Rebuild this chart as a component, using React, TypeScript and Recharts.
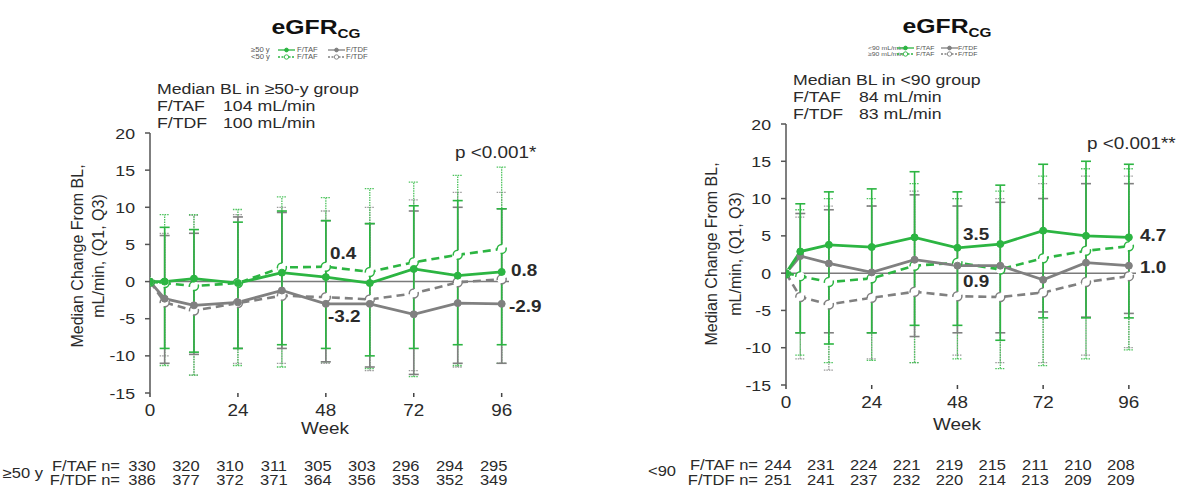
import React from 'react';
import { LineChart, Line, XAxis, YAxis, ErrorBar, ReferenceLine } from 'recharts';

const weeks = [0, 4, 12, 24, 36, 48, 60, 72, 84, 96];
const nWeeks = [0, 12, 24, 36, 48, 60, 72, 84, 96];
const xTicks = [0, 24, 48, 72, 96];
const yTicks = [-15, -10, -5, 0, 5, 10, 15, 20];

// left panel: >=50 y (solid) vs <50 y (dashed)
const ageTafOld = [0, 0, 0.4, -0.2, 1.2, 0.6, -0.2, 1.7, 0.8, 1.3];
const ageTafOldQ1 = [null, -9, -9.5, -9, -8.5, -9, -10, -9, -8.5, -8.5];
const ageTafOldQ3 = [null, 7.3, 7.0, 8.0, 9.5, 8.2, 7.8, 10.2, 10.9, 9.8];
const ageTdfOld = [0, -2.3, -3.2, -2.8, -1.2, -3.0, -3.0, -4.4, -2.9, -3.0];
const ageTdfOldQ1 = [null, -11, -9.8, -9.0, -9.0, -10.8, -11.5, -12.5, -11.0, -11.0];
const ageTdfOldQ3 = [null, 6.2, 6.5, 8.7, 9.3, 8.2, 7.8, 9.5, 10, 9.8];
const ageTafYoung = [0, -0.2, -0.6, -0.2, 1.9, 2.0, 1.3, 2.6, 3.6, 4.4];
const ageTafYoungQ1 = [null, -11.3, -12.6, -11.3, -11.5, -10.8, -11.7, -12.8, -11.3, -11.0];
const ageTafYoungQ3 = [null, 9.0, 9.0, 9.7, 11.4, 11.3, 12.5, 13.4, 14.3, 15.4];
const ageTdfYoung = [0, -2.8, -3.9, -2.9, -1.9, -2.1, -2.4, -1.6, -0.1, 0.3];
const ageTdfYoungQ1 = [null, -10, -12.6, -11, -11, -11, -12, -12, -11.5, -11];
const ageTdfYoungQ3 = [null, 6.5, 8.9, 9.0, 10, 9.5, 10, 11, 12, 12];
const ageNTaf = [330, 320, 310, 311, 305, 303, 296, 294, 295];
const ageNTdf = [386, 377, 372, 371, 364, 356, 353, 352, 349];

// right panel: <90 mL/min (solid) vs >=90 mL/min (dashed)
const crTafLow = [0, 2.9, 3.8, 3.5, 4.8, 3.4, 3.9, 5.7, 5.0, 4.8];
const crTafLowQ1 = [null, -8, -9.5, -8, -7, -7, -9, -6, -6, -6];
const crTafLowQ3 = [null, 9.3, 10.9, 11.3, 13.6, 10.9, 11.8, 14.6, 15.0, 14.6];
const crTdfLow = [0, 2.3, 1.3, 0.1, 1.8, 1.0, 1.0, -0.9, 1.4, 1.0];
const crTdfLowQ1 = [null, -8, -8, -8, -8.5, -8, -8, -5.2, -5.9, -5.4];
const crTdfLowQ3 = [null, 8, 8.5, 9, 10.5, 9, 9.5, 10, 12, 12];
const crTafHigh = [0, -0.4, -1.2, -0.7, 1.0, 1.4, 0.5, 2.0, 3.0, 3.6];
const crTafHighQ1 = [null, -11, -12, -11.7, -12, -11.5, -12.8, -12.4, -11.5, -10.3];
const crTafHighQ3 = [null, 8.5, 10, 10, 12, 10, 11, 13, 14, 14];
const crTdfHigh = [0, -3.2, -4.2, -3.3, -2.5, -3.1, -3.2, -2.6, -1.2, -0.4];
const crTdfHighQ1 = [null, -11.5, -13, -11.5, -12, -11, -12, -12, -11, -10];
const crTdfHighQ3 = [null, 7.5, 9, 9, 11, 10, 10, 12, 13, 13];
const crNTaf = [244, 231, 224, 221, 219, 215, 211, 210, 208];
const crNTdf = [251, 241, 237, 232, 220, 214, 213, 209, 209];

const GREEN = '#2cb542';
const GREEN_BAR = '#4cc35c';
const GRAY = '#808080';
const GRAY_BAR = '#9a9a9a';
const INK = '#2a2a2a';
const FONT = '"Liberation Sans", Arial, sans-serif';
const SX = 1.18; // text in the source is a little wide

type Triple = [number[], (number | null)[], (number | null)[]];

const mkRows = (s: Record<string, Triple>) =>
  weeks.map((week, i) => {
    const row: any = { week };
    for (const k in s) {
      const [v, q1, q3] = s[k];
      row[k] = v[i];
      row[k + 'Err'] = q1[i] == null ? undefined : [v[i] - (q1[i] as number), (q3[i] as number) - v[i]];
    }
    return row;
  });

const ageRows = mkRows({
  solG: [ageTafOld, ageTafOldQ1, ageTafOldQ3],
  solK: [ageTdfOld, ageTdfOldQ1, ageTdfOldQ3],
  dshG: [ageTafYoung, ageTafYoungQ1, ageTafYoungQ3],
  dshK: [ageTdfYoung, ageTdfYoungQ1, ageTdfYoungQ3],
});
const crRows = mkRows({
  solG: [crTafLow, crTafLowQ1, crTafLowQ3],
  solK: [crTdfLow, crTdfLowQ1, crTdfLowQ3],
  dshG: [crTafHigh, crTafHighQ1, crTafHighQ3],
  dshK: [crTdfHigh, crTdfHighQ1, crTdfHighQ3],
});

const SText = ({ x, y, size, weight = 400, anchor = 'start', fill = INK, children }: any) => (
  <g transform={`translate(${x},${y}) scale(${SX},1)`}>
    <text x={0} y={0} fontSize={size} fontWeight={weight} textAnchor={anchor} fill={fill} fontFamily={FONT}>
      {children}
    </text>
  </g>
);

const XTick = (p: any) => (
  <SText x={p.x} y={p.y + 13} size={16} anchor="middle">{p.payload.value}</SText>
);
const YTick = (p: any) => (
  <SText x={p.x} y={p.y + 5.5} size={15} anchor="end">{p.payload.value}</SText>
);

const makeNTick = (taf: number[], tdf: number[], c: any) => (p: any) => {
  const i = nWeeks.indexOf(p.payload.value);
  return (
    <g>
      <SText x={p.x - 8} y={p.y + c.dy1} size={14} anchor="middle">{taf[i]}</SText>
      <SText x={p.x - 8} y={p.y + c.dy2} size={14} anchor="middle">{tdf[i]}</SText>
      {i === 0 && (
        <>
          <SText x={p.x - c.rowDx} y={p.y + c.dy1} size={14} anchor="end">F/TAF n=</SText>
          <SText x={p.x - c.rowDx} y={p.y + c.dy2} size={14} anchor="end">F/TDF n=</SText>
          <SText x={p.x - c.groupDx} y={p.y + c.dyG} size={14} anchor="end">{c.group}</SText>
        </>
      )}
    </g>
  );
};

const Panel = ({ rows, cfg, nTaf, nTdf }: any) => (
  <div style={{ position: 'absolute', left: cfg.left, top: 0 }}>
    <LineChart width={cfg.width} height={495} data={rows} margin={{ top: cfg.top, right: cfg.right, left: 0, bottom: 0 }}>
      <XAxis
        dataKey="week"
        type="number"
        domain={[0, 98]}
        ticks={xTicks}
        interval={0}
        axisLine={false}
        tickLine={{ stroke: '#444', strokeWidth: 1.5 }}
        tickSize={4}
        tickMargin={6}
        height={cfg.h1}
        tick={XTick}
        allowDataOverflow
      />
      <XAxis
        xAxisId="n"
        dataKey="week"
        type="number"
        domain={[0, 98]}
        ticks={nWeeks}
        interval={0}
        axisLine={false}
        tickLine={false}
        tickSize={0}
        tickMargin={0}
        height={cfg.h2}
        tick={makeNTick(nTaf, nTdf, cfg)}
        allowDataOverflow
      />
      <YAxis
        type="number"
        domain={[-15, 20]}
        ticks={yTicks}
        interval={0}
        width={cfg.yw}
        axisLine={{ stroke: '#555', strokeWidth: 1.5 }}
        tickLine={{ stroke: '#555', strokeWidth: 1.5 }}
        tickSize={5}
        tickMargin={10}
        tick={YTick}
        allowDataOverflow
      />
      <ReferenceLine y={0} stroke="#7a7a7a" strokeWidth={1.5} />

      {/* error bars first so they sit under every line */}
      <Line dataKey="dshK" stroke="none" dot={false} activeDot={false} isAnimationActive={false}>
        <ErrorBar dataKey="dshKErr" direction="y" width={5} stroke={GRAY_BAR} strokeWidth={1.3} strokeDasharray="1.5 1" isAnimationActive={false} />
      </Line>
      <Line dataKey="dshG" stroke="none" dot={false} activeDot={false} isAnimationActive={false}>
        <ErrorBar dataKey="dshGErr" direction="y" width={5} stroke={GREEN_BAR} strokeWidth={1.3} strokeDasharray="1.5 1" isAnimationActive={false} />
      </Line>
      <Line dataKey="solK" stroke="none" dot={false} activeDot={false} isAnimationActive={false}>
        <ErrorBar dataKey="solKErr" direction="y" width={5} stroke={GRAY} strokeWidth={1.6} isAnimationActive={false} />
      </Line>
      <Line dataKey="solG" stroke="none" dot={false} activeDot={false} isAnimationActive={false}>
        <ErrorBar dataKey="solGErr" direction="y" width={5} stroke={GREEN} strokeWidth={1.6} isAnimationActive={false} />
      </Line>

      <Line dataKey="dshK" stroke={GRAY} strokeWidth={2.6} strokeDasharray="8 5" dot={{ r: 4.5, fill: '#fff', stroke: GRAY, strokeWidth: 1.5 }} activeDot={false} isAnimationActive={false} />
      <Line dataKey="dshG" stroke={GREEN} strokeWidth={2.6} strokeDasharray="8 5" dot={{ r: 4.5, fill: '#fff', stroke: GREEN, strokeWidth: 1.5 }} activeDot={false} isAnimationActive={false} />
      <Line dataKey="solK" stroke={GRAY} strokeWidth={2.8} dot={{ r: 3.5, fill: GRAY, stroke: GRAY, strokeWidth: 1 }} activeDot={false} isAnimationActive={false} />
      <Line dataKey="solG" stroke={GREEN} strokeWidth={2.8} dot={{ r: 3.5, fill: GREEN, stroke: GREEN, strokeWidth: 1 }} activeDot={false} isAnimationActive={false} />
    </LineChart>
  </div>
);

const LegendKey = ({ x, y, color, open }: any) => (
  <g>
    <line x1={x} y1={y} x2={x + 17} y2={y} stroke={color} strokeWidth={1.3} strokeDasharray={open ? '2 1.5' : undefined} />
    <circle cx={x + 8.5} cy={y} r={open ? 2.2 : 1.9} fill={open ? '#fff' : color} stroke={color} strokeWidth={0.9} />
  </g>
);

const Legend = ({ x, y, gap, size, labels, keyX, textX }: any) => (
  <g>
    {[0, 1].map((r) => (
      <g key={r}>
        <SText x={x} y={y + r * gap + size * 0.35} size={size} fill="#555">{labels[r]}</SText>
        <LegendKey x={keyX[0]} y={y + r * gap} color={GREEN} open={r === 1} />
        <SText x={textX[0]} y={y + r * gap + size * 0.35} size={size} fill="#555">F/TAF</SText>
        <LegendKey x={keyX[1]} y={y + r * gap} color={GRAY} open={r === 1} />
        <SText x={textX[1]} y={y + r * gap + size * 0.35} size={size} fill="#555">F/TDF</SText>
      </g>
    ))}
  </g>
);

const Title = ({ x, y }: any) => (
  <g transform={`translate(${x},${y}) scale(${SX},1)`}>
    <text x={0} y={0} textAnchor="middle" fontFamily={FONT} fontWeight={700} fill="#111">
      <tspan fontSize={21}>eGFR</tspan>
      <tspan fontSize={13} dy={4}>CG</tspan>
    </text>
  </g>
);

const YLabel = ({ x1, x2, y }: any) => (
  <g fontFamily={FONT} fontSize={16} fill={INK} textAnchor="middle">
    <text transform={`translate(${x1},${y}) rotate(-90)`} dominantBaseline="central">Median Change From BL,</text>
    <text transform={`translate(${x2},${y}) rotate(-90)`} dominantBaseline="central">mL/min, (Q1, Q3)</text>
  </g>
);

const leftCfg = { left: 0, width: 600, top: 133, right: 91, yw: 150, h1: 42, h2: 60, dy1: 36, dy2: 50, dyG: 43, rowDx: 30, groupDx: 107, group: '\u226550 y' };
const rightCfg = { left: 600, width: 579, top: 124, right: 43, yw: 186, h1: 43, h2: 67, dy1: 42, dy2: 57, dyG: 48, rowDx: 28, groupDx: 110, group: '<90' };

export default function App() {
  return (
    <div style={{ position: 'absolute', left: 0, top: 0, width: 1179, height: 495, background: '#fff', overflow: 'hidden' }}>
      <Panel rows={ageRows} cfg={leftCfg} nTaf={ageNTaf} nTdf={ageNTdf} />
      <Panel rows={crRows} cfg={rightCfg} nTaf={crNTaf} nTdf={crNTdf} />
      <svg width={1179} height={495} style={{ position: 'absolute', left: 0, top: 0, pointerEvents: 'none' }}>
        {/* left panel annotations */}
        <Title x={316} y={34} />
        <Legend x={251} y={50} gap={7} size={6.5} labels={['\u226550 y', '<50 y']} keyX={[278, 328]} textX={[297, 346]} />
        <SText x={157} y={94} size={15}>Median BL in {'\u2265'}50-y group</SText>
        <SText x={157} y={111} size={15}>F/TAF</SText>
        <SText x={223} y={111} size={15}>104 mL/min</SText>
        <SText x={157} y={128} size={15}>F/TDF</SText>
        <SText x={223} y={128} size={15}>100 mL/min</SText>
        <SText x={455} y={158} size={16}>p {'<'}0.001*</SText>
        <SText x={330} y={259} size={16} weight={700}>0.4</SText>
        <SText x={328} y={322} size={16} weight={700}>-3.2</SText>
        <SText x={511} y={276} size={16} weight={700}>0.8</SText>
        <SText x={509} y={312} size={16} weight={700}>-2.9</SText>
        <SText x={325} y={434} size={16} anchor="middle">Week</SText>
        <YLabel x1={77} x2={98} y={256} />

        {/* right panel annotations */}
        <Title x={947} y={33} />
        <Legend x={868} y={48} gap={6} size={5.8} labels={['<90 mL/min', '\u226590 mL/min']} keyX={[897, 941]} textX={[916, 958]} />
        <SText x={793} y={85} size={15}>Median BL in {'<'}90 group</SText>
        <SText x={793} y={102} size={15}>F/TAF</SText>
        <SText x={859} y={102} size={15}>84 mL/min</SText>
        <SText x={793} y={119} size={15}>F/TDF</SText>
        <SText x={859} y={119} size={15}>83 mL/min</SText>
        <SText x={1087} y={149} size={16}>p {'<'}0.001**</SText>
        <SText x={963} y={240} size={16} weight={700}>3.5</SText>
        <SText x={963} y={287} size={16} weight={700}>0.9</SText>
        <SText x={1140} y={241} size={16} weight={700}>4.7</SText>
        <SText x={1140} y={273} size={16} weight={700}>1.0</SText>
        <SText x={957} y={430} size={16} anchor="middle">Week</SText>
        <YLabel x1={711} x2={735} y={254} />
      </svg>
    </div>
  );
}
